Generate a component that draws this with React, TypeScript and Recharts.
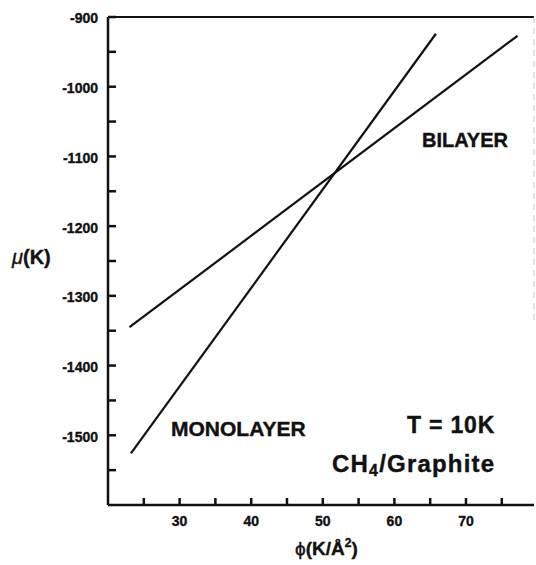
import React from "react";
import { LineChart, Line, XAxis, YAxis, ReferenceLine } from "recharts";

// Data (phi in K/Å², mu in K)
const bilayerPhi = [23.0, 77.2];
const bilayerMu = [-1345, -927];
const monolayerPhi = [23.2, 65.8];
const monolayerMu = [-1526, -924];

const xTicks = [25, 30, 35, 40, 45, 50, 55, 60, 65, 70, 75];
const xTickLabels = [30, 40, 50, 60, 70];
const yTicks = [-900, -950, -1000, -1050, -1100, -1150, -1200, -1250, -1300, -1350, -1400, -1450, -1500, -1550];
const yTickLabels = [-900, -1000, -1100, -1200, -1300, -1400, -1500];

const bilayerData = bilayerPhi.map((phi, i) => ({ phi, mu: bilayerMu[i] }));
const monolayerData = monolayerPhi.map((phi, i) => ({ phi, mu: monolayerMu[i] }));

const FONT = "'Liberation Sans', Arial, Helvetica, sans-serif";
const INK = "#111";

const YTick = (props: any) => {
  const { x, y, payload } = props;
  const v = payload.value;
  const major = yTickLabels.includes(v);
  return (
    <g>
      <line x1={x} x2={x + 8} y1={y} y2={y} stroke={INK} strokeWidth={2.5} />
      {major && (
        <text
          x={x - 10}
          y={y + 1.5}
          dy="0.35em"
          textAnchor="end"
          fontFamily={FONT}
          fontWeight="bold"
          fontSize={14}
          fill={INK}
          stroke={INK}
          strokeWidth={0.35}
        >
          {v}
        </text>
      )}
    </g>
  );
};

const XTick = (props: any) => {
  const { x, y, payload } = props;
  const v = payload.value;
  const major = xTickLabels.includes(v);
  return (
    <g>
      <line x1={x} x2={x} y1={y} y2={y - 7} stroke={INK} strokeWidth={2.5} />
      {major && (
        <text
          x={x}
          y={y + 21}
          textAnchor="middle"
          fontFamily={FONT}
          fontWeight="bold"
          fontSize={14}
          fill={INK}
          stroke={INK}
          strokeWidth={0.35}
        >
          {v}
        </text>
      )}
    </g>
  );
};

export default function App() {
  return (
    <div style={{ position: "absolute", left: 0, top: 0, width: 536, height: 565, background: "#fff" }}>
      <LineChart
        width={536}
        height={565}
        margin={{ top: 17, right: 2, bottom: 30, left: 48 }}
      >
        <XAxis
          type="number"
          dataKey="phi"
          domain={[20, 79.5]}
          ticks={xTicks}
          interval={0}
          tickSize={0}
          tickMargin={0}
          tickLine={false}
          tick={<XTick />}
          height={30}
          axisLine={{ stroke: INK, strokeWidth: 2.5 }}
          allowDataOverflow
        />
        <YAxis
          type="number"
          dataKey="mu"
          domain={[-1600, -900]}
          ticks={yTicks}
          interval={0}
          tickSize={0}
          tickMargin={0}
          tickLine={false}
          tick={<YTick />}
          width={60}
          axisLine={{ stroke: INK, strokeWidth: 2.5 }}
          allowDataOverflow
        />
        <ReferenceLine y={-900} stroke={INK} strokeWidth={2} />
        <ReferenceLine
          segment={[
            { x: 79.5, y: -900 },
            { x: 79.5, y: -1340 },
          ]}
          stroke="#c8c8c8"
          strokeWidth={1}
          strokeDasharray="6 5"
        />
        <Line
          data={bilayerData}
          dataKey="mu"
          stroke={INK}
          strokeWidth={2.2}
          dot={false}
          isAnimationActive={false}
        />
        <Line
          data={monolayerData}
          dataKey="mu"
          stroke={INK}
          strokeWidth={2.2}
          dot={false}
          isAnimationActive={false}
        />
      </LineChart>
      <svg
        width={536}
        height={565}
        style={{ position: "absolute", left: 0, top: 0, pointerEvents: "none" }}
      >
        <g fontFamily={FONT} fontWeight="bold" fill={INK} stroke={INK} strokeWidth={0.4}>
          <text x={422} y={147} fontSize={20}>BILAYER</text>
          <text x={171} y={436} fontSize={21}>MONOLAYER</text>
          <text x={407} y={433} fontSize={23} letterSpacing={0.8}>T = 10K</text>
          <text x={332} y={472} fontSize={24} letterSpacing={1.2}>
            CH
            <tspan fontSize={16} dy={4}>4</tspan>
            <tspan dy={-4}>/Graphite</tspan>
          </text>
          <text x={12} y={264} fontSize={20}>
            <tspan fontStyle="italic" fontWeight="normal">μ</tspan>(K)
          </text>
          <text x={295} y={555} fontSize={19}>
            <tspan fontWeight="normal">ϕ</tspan>(K/Å
            <tspan fontSize={12} dy={-8}>2</tspan>
            <tspan dy={8}>)</tspan>
          </text>
        </g>
      </svg>
    </div>
  );
}
